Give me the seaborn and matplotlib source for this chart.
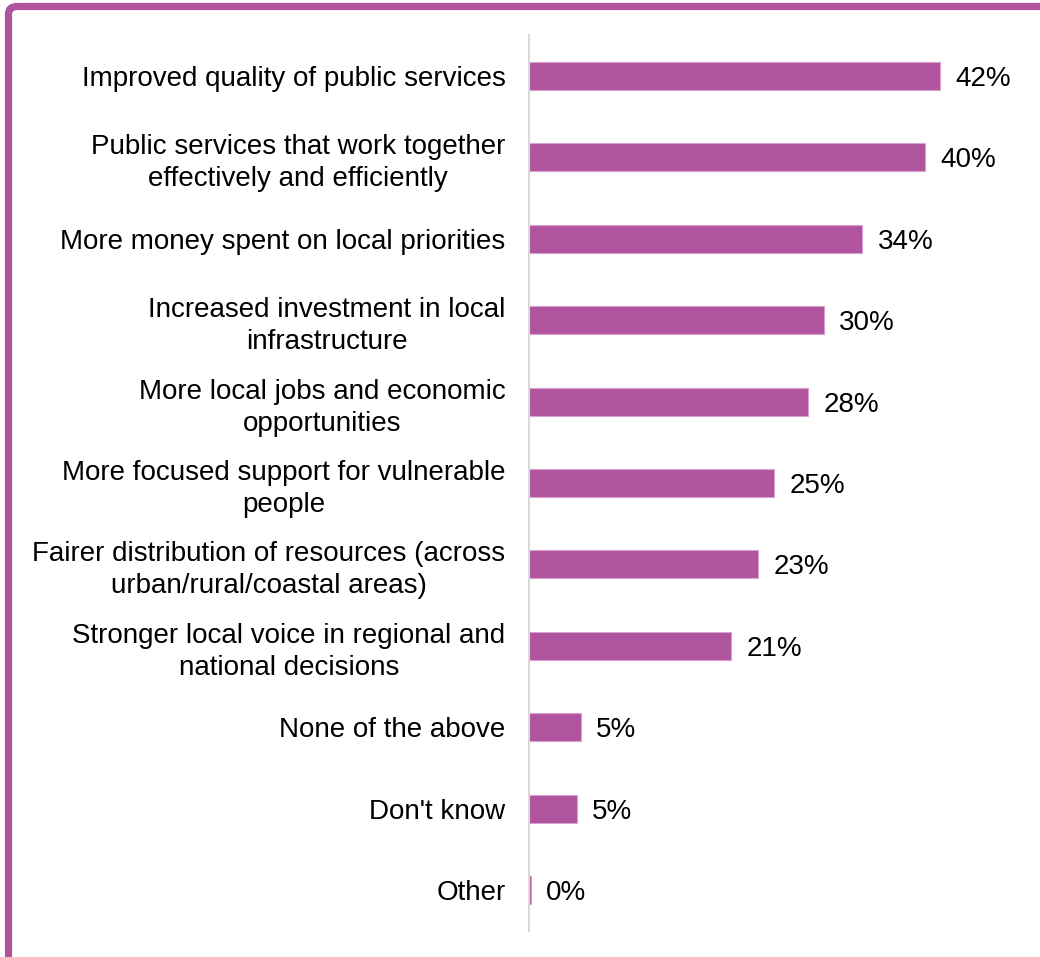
import matplotlib
matplotlib.use("Agg")
import matplotlib.pyplot as plt
import seaborn as sns
import pandas as pd
from matplotlib.patches import FancyBboxPatch

categories = [
    "Improved quality of public services",
    "Public services that work together\neffectively and efficiently",
    "More money spent on local priorities",
    "Increased investment in local\ninfrastructure",
    "More local jobs and economic\nopportunities",
    "More focused support for vulnerable\npeople",
    "Fairer distribution of resources (across\nurban/rural/coastal areas)",
    "Stronger local voice in regional and\nnational decisions",
    "None of the above",
    "Don't know",
    "Other",
]
values = [41.9, 40.4, 34.0, 30.1, 28.5, 25.0, 23.4, 20.6, 5.3, 4.9, 0.2]
value_labels = ["42%", "40%", "34%", "30%", "28%", "25%", "23%", "21%", "5%", "5%", "0%"]

df = pd.DataFrame({"category": categories, "value": values})

sns.set_theme(style="white")
plt.rcParams["font.family"] = ["Liberation Sans", "DejaVu Sans"]

purple = "#B0549F"

fig = plt.figure(figsize=(10.4, 9.57), dpi=100)
ax = fig.add_axes([529 / 1040, 26.3 / 957, 1 - 529 / 1040, (921.7 - 26.3) / 957])

sns.barplot(data=df, x="value", y="category", orient="h", color=purple,
            width=0.345, saturation=1, ax=ax, edgecolor="#D9A0D0", linewidth=0.8)

ax.set_xlim(0, (1040 - 529) / 9.8)
ax.set_ylim(10.5, -0.5)
ax.set_xlabel("")
ax.set_ylabel("")
ax.set_xticks([])
for s in ["top", "right", "bottom"]:
    ax.spines[s].set_visible(False)
ax.spines["left"].set_color("#D9D9D9")
ax.spines["left"].set_linewidth(1.5)
ax.tick_params(axis="y", length=0, pad=17, labelsize=20, labelcolor="black")
for t in ax.get_yticklabels():
    t.set_multialignment("center")
    t.set_linespacing(1.3)

texts = ax.bar_label(ax.containers[0], labels=value_labels, padding=11, fontsize=20, color="black")
for t in texts:
    x0, y0 = t.xyann
    t.xyann = (x0, y0 - 2.2)

border = FancyBboxPatch((8.5 / 1040, -0.2), 1.2, 1.2 - 6.5 / 957,
                        boxstyle="round,pad=0,rounding_size=0.008",
                        transform=fig.transFigure, facecolor="none",
                        edgecolor=purple, linewidth=5.2, clip_on=False)
fig.patches.append(border)

fig.savefig("out.png", dpi=100)
